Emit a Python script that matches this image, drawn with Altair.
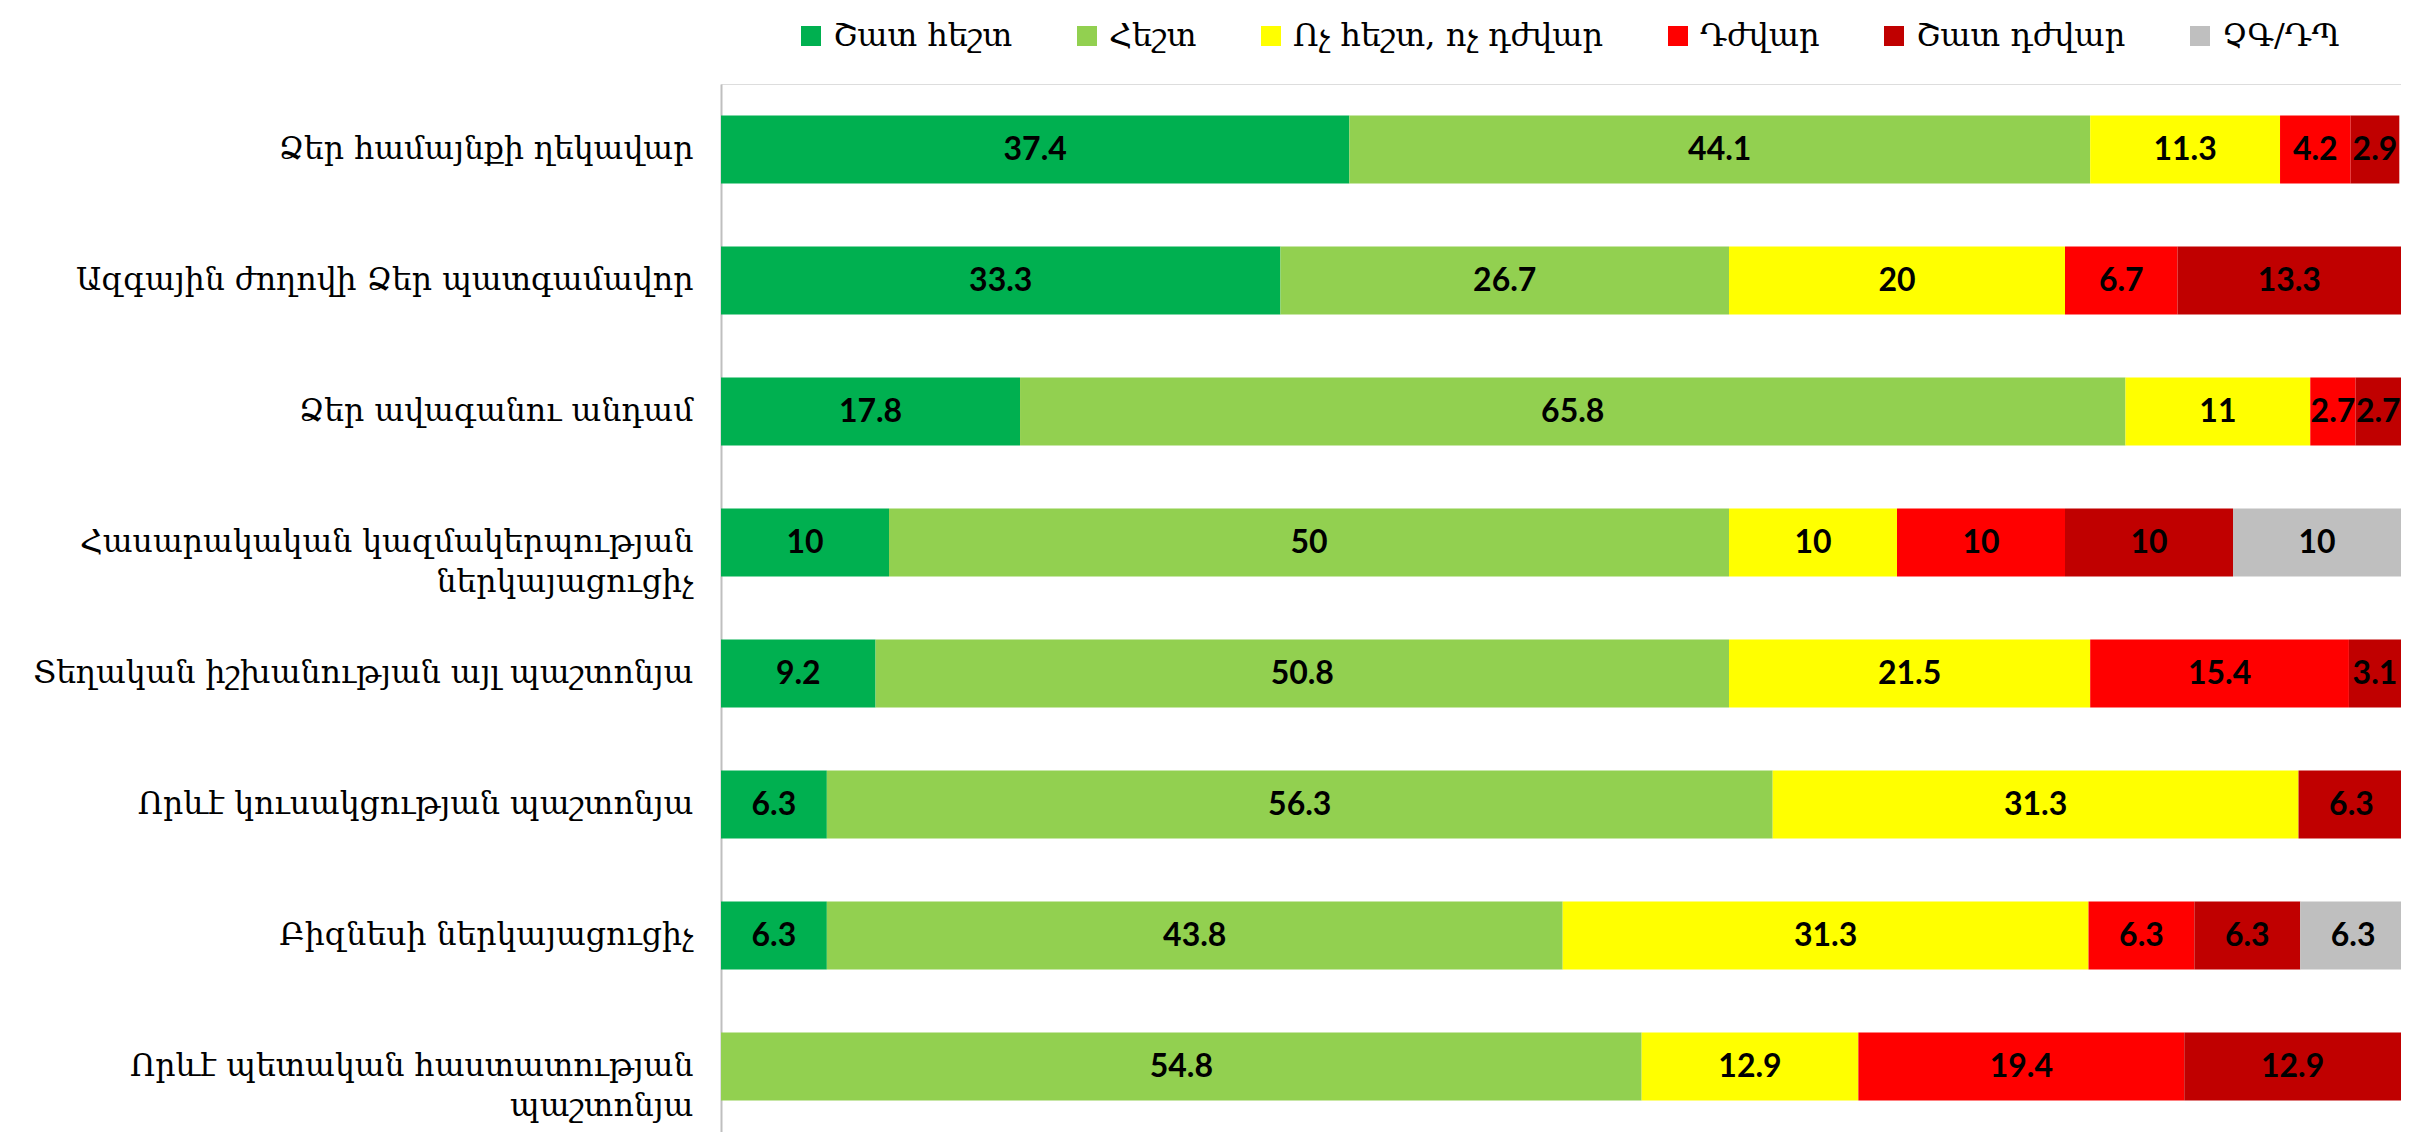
import altair as alt
import pandas as pd

categories = [
    "Ձեր համայնքի ղեկավար",
    "Ազգային ժողովի Ձեր պատգամավոր",
    "Ձեր ավագանու անդամ",
    "Հասարակական կազմակերպության|ներկայացուցիչ",
    "Տեղական իշխանության այլ պաշտոնյա",
    "Որևէ կուսակցության պաշտոնյա",
    "Բիզնեսի ներկայացուցիչ",
    "Որևէ պետական հաստատության|պաշտոնյա",
]
series = ["Շատ հեշտ", "Հեշտ", "Ոչ հեշտ, ոչ դժվար", "Դժվար", "Շատ դժվար", "ՉԳ/ԴՊ"]
colors = ["#00B050", "#92D050", "#FFFF00", "#FF0000", "#C00000", "#BFBFBF"]

very_easy = [37.4, 33.3, 17.8, 10, 9.2, 6.3, 6.3, 0]
easy = [44.1, 26.7, 65.8, 50, 50.8, 56.3, 43.8, 54.8]
neutral = [11.3, 20, 11, 10, 21.5, 31.3, 31.3, 12.9]
hard = [4.2, 6.7, 2.7, 10, 15.4, 0, 6.3, 19.4]
very_hard = [2.9, 13.3, 2.7, 10, 3.1, 6.3, 6.3, 12.9]
dk = [0, 0, 0, 10, 0, 0, 6.3, 0]

values = [very_easy, easy, neutral, hard, very_hard, dk]

rows = []
for si, (s, vals) in enumerate(zip(series, values)):
    for ci, (c, v) in enumerate(zip(categories, vals)):
        if v > 0:
            rows.append({"cat": c, "series": s, "order": si, "value": v, "label": f"{v:g}"})
df = pd.DataFrame(rows)

base = alt.Chart(df).transform_stack(
    stack="value", groupby=["cat"], as_=["x0", "x1"], sort=[alt.SortField("order", order="ascending")]
).transform_calculate(mid="(datum.x0 + datum.x1) / 2")

y_enc = alt.Y(
    "cat:N",
    sort=categories,
    title=None,
    scale=alt.Scale(paddingInner=0.48, paddingOuter=0.24),
    axis=alt.Axis(
        labelExpr="split(datum.label, '|')",
        labelFont="DejaVu Serif",
        labelFontSize=31.5,
        labelColor="#000000",
        labelPadding=28,
        labelLimit=800,
        labelLineHeight=40,
        ticks=False,
        domainColor="#BFBFBF",
        domainWidth=2,
        grid=False,
    ),
)
x_scale = alt.Scale(domain=[0, 100], nice=False)

bars = base.mark_bar(clip=True).encode(
    y=y_enc,
    x=alt.X("x0:Q", scale=x_scale, axis=None, title=None),
    x2="x1:Q",
    color=alt.Color(
        "series:N",
        sort=series,
        scale=alt.Scale(domain=series, range=colors),
        legend=alt.Legend(
            title=None,
            orient="none",
            direction="horizontal",
            legendX=74,
            legendY=-64,
            symbolType="square",
            symbolSize=400,
            symbolStrokeWidth=0,
            labelFont="DejaVu Serif",
            labelFontSize=32,
            labelColor="#000000",
            labelOffset=6,
            columnPadding=58,
            labelLimit=600,
        ),
    ),
)

labels = base.mark_text(font="Lato", fontWeight="bold", fontSize=32, color="#000000", clip=True).encode(
    y=alt.Y("cat:N", sort=categories),
    x=alt.X("mid:Q", scale=x_scale),
    text="label:N",
)

chart = (
    alt.layer(bars, labels)
    .properties(
        width=1680,
        height=1048,
        autosize=alt.AutoSizeParams(type="none"),
        padding={"left": 713, "top": 76, "right": 0, "bottom": 0},
    )
    .configure_view(stroke=None)
    .configure(background="#FFFFFF")
)

chart.save("out.html", embed_options={"renderer": "svg", "actions": False})
